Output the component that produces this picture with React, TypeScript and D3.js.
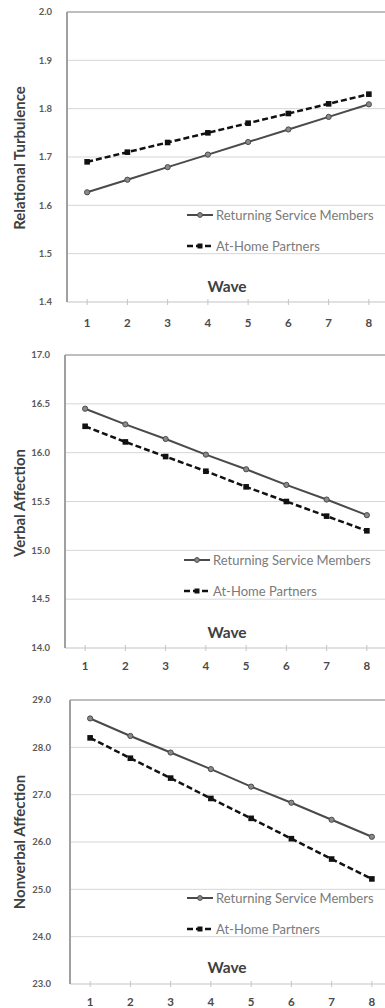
import React, { useRef, useEffect } from 'react';
import * as d3 from 'd3';

const waves = ['1', '2', '3', '4', '5', '6', '7', '8'];
const seriesNames = ['Returning Service Members', 'At-Home Partners'];
const panelTitles = ['Relational Turbulence', 'Verbal Affection', 'Nonverbal Affection'];

const turbulenceRSM = [1.627, 1.653, 1.679, 1.705, 1.731, 1.757, 1.783, 1.809];
const turbulenceAHP = [1.69, 1.71, 1.73, 1.75, 1.77, 1.79, 1.81, 1.83];
const verbalRSM = [16.45, 16.29, 16.14, 15.98, 15.83, 15.67, 15.52, 15.36];
const verbalAHP = [16.27, 16.11, 15.96, 15.81, 15.65, 15.5, 15.35, 15.2];
const nonverbalRSM = [28.61, 28.24, 27.89, 27.54, 27.17, 26.83, 26.47, 26.11];
const nonverbalAHP = [28.2, 27.77, 27.35, 26.92, 26.5, 26.07, 25.64, 25.22];

const turbulenceTicks = [1.4, 1.5, 1.6, 1.7, 1.8, 1.9, 2.0];
const verbalTicks = [14.0, 14.5, 15.0, 15.5, 16.0, 16.5, 17.0];
const nonverbalTicks = [23.0, 24.0, 25.0, 26.0, 27.0, 28.0, 29.0];

// layout of the three stacked panels (pixels)
const panels = [
  { title: panelTitles[0], rsm: turbulenceRSM, ahp: turbulenceAHP, ticks: turbulenceTicks,
    left: 67, top: 12, bottom: 302, labelY: 323, legendY: 215, legendX: 187, waveY: 287, tickGap: 15, titleY: 158 },
  { title: panelTitles[1], rsm: verbalRSM, ahp: verbalAHP, ticks: verbalTicks,
    left: 65, top: 355, bottom: 648, labelY: 666, legendY: 560, legendX: 184, waveY: 633, tickGap: 15, titleY: 503 },
  { title: panelTitles[2], rsm: nonverbalRSM, ahp: nonverbalAHP, ticks: nonverbalTicks,
    left: 70, top: 700, bottom: 984, labelY: 1002, legendY: 898, legendX: 187, waveY: 968, tickGap: 19, titleY: 842 },
];

const width = 385;
const height = 1008;
const font = 'Lato, "Open Sans", sans-serif';

const App = () => {
  const ref = useRef(null);

  useEffect(() => {
    const svg = d3.select(ref.current)
      .attr('width', width)
      .attr('height', height)
      .style('background', '#fff');

    svg.selectAll('*').remove();

    panels.forEach((p) => {
      const g = svg.append('g');
      const right = p.left + 322;

      const x = d3.scaleBand().domain(waves).range([p.left, right]);
      const y = d3.scaleLinear()
        .domain([p.ticks[0], p.ticks[p.ticks.length - 1]])
        .range([p.bottom, p.top]);
      const cx = (d) => x(d) + x.bandwidth() / 2;

      // gridlines
      g.selectAll('.grid')
        .data(p.ticks.slice(1, -1))
        .enter().append('line')
        .attr('x1', p.left).attr('x2', right)
        .attr('y1', (d) => y(d)).attr('y2', (d) => y(d))
        .attr('stroke', '#d6d6d6').attr('stroke-width', 1);

      // top border
      g.append('line')
        .attr('x1', p.left).attr('x2', right)
        .attr('y1', y.range()[1]).attr('y2', y.range()[1])
        .attr('stroke', '#a8a8a8').attr('stroke-width', 1.5);

      // x axis line + ticks
      g.append('line')
        .attr('x1', p.left).attr('x2', right)
        .attr('y1', p.bottom).attr('y2', p.bottom)
        .attr('stroke', '#c4c4c4').attr('stroke-width', 1.2);
      g.selectAll('.xtick')
        .data(waves)
        .enter().append('line')
        .attr('x1', cx).attr('x2', cx)
        .attr('y1', p.bottom - 3).attr('y2', p.bottom + 3)
        .attr('stroke', '#c4c4c4').attr('stroke-width', 1);

      // y axis line
      g.append('line')
        .attr('x1', p.left).attr('x2', p.left)
        .attr('y1', p.top).attr('y2', p.bottom)
        .attr('stroke', '#a0a0a0').attr('stroke-width', 2);

      // y tick labels
      g.selectAll('.ylab')
        .data(p.ticks)
        .enter().append('text')
        .attr('x', p.left - p.tickGap)
        .attr('y', (d) => y(d))
        .attr('dy', '0.35em')
        .attr('text-anchor', 'end')
        .style('font-family', font)
        .style('font-size', '9.5px')
        .style('font-weight', 'bold')
        .attr('fill', '#5a5a5a')
        .text((d) => d3.format('.1f')(d));

      // x tick labels
      g.selectAll('.xlab')
        .data(waves)
        .enter().append('text')
        .attr('x', cx)
        .attr('y', p.labelY)
        .attr('dy', '0.35em')
        .attr('text-anchor', 'middle')
        .style('font-family', font)
        .style('font-size', '11.5px')
        .style('font-weight', 'bold')
        .attr('fill', '#4a4a4a')
        .text((d) => d);

      // y title
      g.append('text')
        .attr('transform', `translate(20, ${p.titleY}) rotate(-90)`)
        .attr('dy', '0.35em')
        .attr('text-anchor', 'middle')
        .style('font-family', font)
        .style('font-size', '15px')
        .style('font-weight', 'bold')
        .attr('fill', '#404040')
        .text(p.title);

      // "Wave" label
      g.append('text')
        .attr('x', 227)
        .attr('y', p.waveY)
        .attr('dy', '0.35em')
        .attr('text-anchor', 'middle')
        .style('font-family', font)
        .style('font-size', '15.5px')
        .style('font-weight', 'bold')
        .attr('fill', '#404040')
        .text('Wave');

      const line = d3.line()
        .x((d, i) => cx(waves[i]))
        .y((d) => y(d));

      // Returning service members
      g.append('path')
        .datum(p.rsm)
        .attr('d', line)
        .attr('fill', 'none')
        .attr('stroke', '#4a4a4a')
        .attr('stroke-width', 2);
      g.selectAll('.rsm')
        .data(p.rsm)
        .enter().append('circle')
        .attr('cx', (d, i) => cx(waves[i]))
        .attr('cy', (d) => y(d))
        .attr('r', 2.6)
        .attr('fill', '#8a8a8a')
        .attr('stroke', '#4a4a4a')
        .attr('stroke-width', 1);

      // At-home partners
      g.append('path')
        .datum(p.ahp)
        .attr('d', line)
        .attr('fill', 'none')
        .attr('stroke', '#111')
        .attr('stroke-width', 2.5)
        .attr('stroke-dasharray', '6,3');
      g.selectAll('.ahp')
        .data(p.ahp)
        .enter().append('rect')
        .attr('x', (d, i) => cx(waves[i]) - 2.8)
        .attr('y', (d) => y(d) - 2.8)
        .attr('width', 5.6)
        .attr('height', 5.6)
        .attr('fill', '#111');

      // legend
      const lg = g.append('g').attr('transform', `translate(${p.legendX}, ${p.legendY})`);
      seriesNames.forEach((name, i) => {
        const ly = i * 31;
        lg.append('line')
          .attr('x1', 0).attr('x2', 26)
          .attr('y1', ly).attr('y2', ly)
          .attr('stroke', i === 0 ? '#4a4a4a' : '#111')
          .attr('stroke-width', i === 0 ? 2 : 2.5)
          .attr('stroke-dasharray', i === 0 ? null : '6,3');
        if (i === 0) {
          lg.append('circle')
            .attr('cx', 13).attr('cy', ly).attr('r', 2.4)
            .attr('fill', '#8a8a8a').attr('stroke', '#4a4a4a');
        } else {
          lg.append('rect')
            .attr('x', 10.5).attr('y', ly - 2.5)
            .attr('width', 5).attr('height', 5)
            .attr('fill', '#111');
        }
        lg.append('text')
          .attr('x', 29)
          .attr('y', ly)
          .attr('dy', '0.35em')
          .style('font-family', font)
          .style('font-size', '13px')
          .attr('fill', '#7a7a7a')
          .text(name);
      });
    });
  }, []);

  return (
    <svg ref={ref} style={{ position: 'absolute', left: 0, top: 0, display: 'block' }}></svg>
  );
};

export default App;
